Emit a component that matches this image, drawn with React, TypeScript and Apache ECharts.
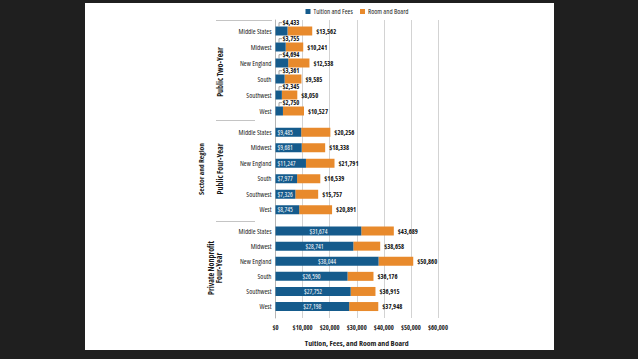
import React, { useEffect, useRef } from 'react';
import * as echarts from 'echarts';

const regions = ['Middle States', 'Midwest', 'New England', 'South', 'Southwest', 'West'];
const sectorLabels = ['Public Two-Year', 'Public Four-Year', 'Private Nonprofit\nFour-Year'];
const seriesNames = ['Tuition and Fees', 'Room and Board'];
const twoYearTuition = [4433, 3755, 4694, 3361, 2345, 2750];
const twoYearTotal = [13562, 10241, 12538, 9585, 8050, 10527];
const fourYearTuition = [9485, 9681, 11247, 7977, 7326, 8745];
const fourYearTotal = [20256, 18338, 21791, 16539, 15757, 20891];
const privateTuition = [31674, 28741, 38044, 26590, 27752, 27198];
const privateTotal = [43689, 38658, 50860, 36176, 36915, 37948];
const xMax = 60000;
const xInterval = 10000;

const BLUE = '#155b8c';
const ORANGE = '#e88a2c';
const FONT = "'Open Sans',sans-serif";

const fmt = (v: number) => '$' + Math.round(v).toLocaleString('en-US');

export default function App() {
  const ref = useRef<HTMLDivElement>(null);
  useEffect(() => {
    document.body.style.margin = '0';
    const chart = echarts.init(ref.current!, null, { renderer: 'svg' });
    const groups = [
      { tuition: twoYearTuition, total: twoYearTotal, top: 23, height: 96, mode: 'above' },
      { tuition: fourYearTuition, total: fourYearTotal, top: 124.5, height: 93, mode: 'insideLeft' },
      { tuition: privateTuition, total: privateTotal, top: 223.5, height: 90.6, mode: 'inside' },
    ];
    const LEFT = 275.5;
    const RIGHT = 200;
    const grids: any[] = [{ left: LEFT, right: RIGHT, top: 20, bottom: 41 }];
    const xAxes: any[] = [
      {
        gridIndex: 0, type: 'value', min: 0, max: xMax, interval: xInterval,
        axisLine: { show: false }, axisTick: { show: false },
        splitLine: { lineStyle: { color: '#d3d3d3', width: 1 } },
        axisLabel: {
          formatter: (v: number) => fmt(v), fontFamily: FONT, fontSize: 6.5, fontWeight: 'bold', color: '#222', margin: 6,
          showMinLabel: true, showMaxLabel: true, hideOverlap: false,
        },
        name: 'Tuition, Fees, and Room and Board', nameLocation: 'middle', nameGap: 21,
        nameTextStyle: { fontFamily: FONT, fontSize: 7.8, fontWeight: 'bold', color: '#1a1a1a' },
      },
    ];
    const yAxes: any[] = [
      {
        gridIndex: 0, type: 'category', data: [''],
        axisLine: { show: true, lineStyle: { color: '#b5b5b5' } },
        axisTick: { show: false }, axisLabel: { show: false }, splitLine: { show: false },
      },
    ];
    const series: any[] = [];
    groups.forEach((g, i) => {
      const gi = i + 1;
      grids.push({ left: LEFT, right: RIGHT, top: g.top, height: g.height });
      xAxes.push({ gridIndex: gi, type: 'value', min: 0, max: xMax, interval: xInterval, show: false });
      yAxes.push({
        gridIndex: gi, type: 'category', inverse: true, data: regions,
        axisLine: { show: false }, axisTick: { show: false }, splitLine: { show: false },
        axisLabel: { fontFamily: FONT, fontSize: 7, fontWeight: 500, color: '#222', margin: 4 },
      });
      series.push({
        type: 'bar', name: seriesNames[0], xAxisIndex: gi, yAxisIndex: gi, stack: 's' + i,
        data: g.tuition, barWidth: 9, itemStyle: { color: BLUE }, z: 3,
        label: g.mode === 'above' ? { show: false } : {
          show: true, position: g.mode, distance: 2, color: '#fff', fontFamily: FONT, fontSize: 6.5, fontWeight: 500,
          overflow: 'none', formatter: (p: any) => fmt(p.value),
        },
      });
      series.push({
        type: 'bar', name: seriesNames[1], xAxisIndex: gi, yAxisIndex: gi, stack: 's' + i,
        data: g.total.map((t, k) => t - g.tuition[k]), barWidth: 9, itemStyle: { color: ORANGE }, z: 2,
        label: {
          show: true, position: 'right', distance: 4, color: '#111', fontFamily: FONT, fontSize: 6.5, fontWeight: 'bold',
          formatter: (p: any) => fmt(g.total[p.dataIndex]),
        },
      });
    });
    series.push({
      type: 'custom', xAxisIndex: 1, yAxisIndex: 1, z: 5,
      data: twoYearTuition.map((v, k) => [v, k]),
      encode: { x: 0, y: 1 },
      renderItem: (params: any, api: any) => {
        const p = api.coord([0, api.value(1)]);
        const x0 = p[0] + 3.5;
        const barTop = p[1] - 4.5;
        const ty = p[1] - 8.3;
        return {
          type: 'group',
          children: [
            { type: 'polyline', shape: { points: [[x0, barTop], [x0, ty], [x0 + 3, ty]] }, style: { stroke: '#888', lineWidth: 0.8, fill: null } },
            {
              type: 'text',
              style: {
                text: fmt(api.value(0)), x: x0 + 3.5, y: ty, font: `bold 6.5px ${FONT}`, fill: '#111',
                textAlign: 'left', textVerticalAlign: 'middle', align: 'left', verticalAlign: 'middle',
              },
            },
          ],
        };
      },
    });

    const rotText = (text: string, x: number, y: number, size: number) => ({
      type: 'text', x, y, rotation: Math.PI / 2, z: 10,
      style: {
        text, font: `bold ${size}px ${FONT}`, fill: '#1a1a1a', lineHeight: size + 0.5,
        textAlign: 'center', textVerticalAlign: 'middle', align: 'center', verticalAlign: 'middle',
      },
    });

    const legendCommon = {
      top: 8, itemWidth: 5, itemHeight: 5, padding: 0, icon: 'rect',
      textStyle: { fontFamily: FONT, fontSize: 7, fontWeight: 500, color: '#222', padding: [0, 0, 0, -2] },
    };

    chart.setOption({
      animation: false,
      backgroundColor: '#1f1f1f',
      graphic: [
        { type: 'rect', z: -10, shape: { x: 85, y: 3, width: 469, height: 347 }, style: { fill: '#ffffff' } },
        { type: 'line', z: 10, shape: { x1: 216, y1: 20.5, x2: 272, y2: 20.5 }, style: { stroke: '#c4c4c4', lineWidth: 1 } },
        { type: 'line', z: 10, shape: { x1: 216, y1: 120.5, x2: 255, y2: 120.5 }, style: { stroke: '#c4c4c4', lineWidth: 1 } },
        { type: 'line', z: 10, shape: { x1: 216, y1: 221.5, x2: 255, y2: 221.5 }, style: { stroke: '#c4c4c4', lineWidth: 1 } },
        rotText('Sector and Region', 201, 169, 7.5),
        rotText(sectorLabels[0], 219, 72, 8),
        rotText(sectorLabels[1], 219, 169, 8),
        rotText(sectorLabels[2], 214.5, 268, 8),
      ],
      legend: [
        { ...legendCommon, left: 305.5, data: [seriesNames[0]] },
        { ...legendCommon, left: 360, data: [seriesNames[1]] },
      ],
      grid: grids,
      xAxis: xAxes,
      yAxis: yAxes,
      series,
    });
    return () => chart.dispose();
  }, []);
  return (
    <>
      <style>{'svg text{font-stretch:75% !important;}'}</style>
      <div ref={ref} style={{ position: 'fixed', left: 0, top: 0, width: 638, height: 359 }} />
    </>
  );
}
